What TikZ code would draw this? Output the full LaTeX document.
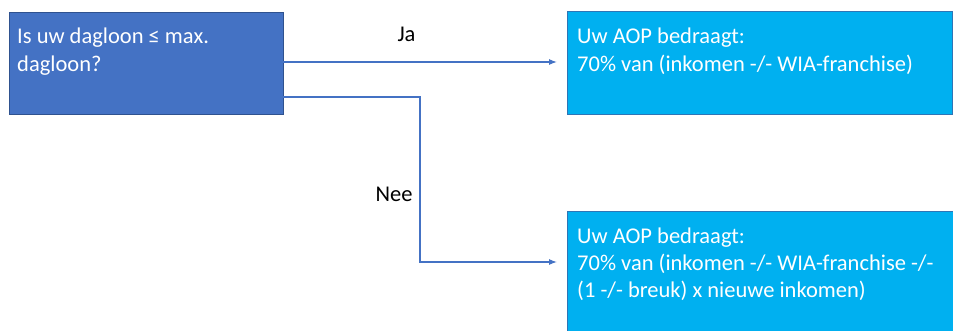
\documentclass[tikz,border=0pt]{standalone}
\usepackage{fontspec}
\setmainfont{Carlito}
\usetikzlibrary{arrows.meta}
\definecolor{qblue}{HTML}{4472C4}
\definecolor{qblueline}{HTML}{2F528F}
\definecolor{cyanfill}{HTML}{00B0F0}
\definecolor{cyanline}{HTML}{2E75B6}
\definecolor{conn}{HTML}{4472C4}
\tikzset{
  box/.style={draw, line width=1pt, rectangle, inner sep=0pt, anchor=north west},
  qbox/.style={box, fill=qblue, draw=qblueline},
  abox/.style={box, fill=cyanfill, draw=cyanline},
  boxtext/.style={anchor=north west, inner sep=0pt, align=left, text=white,
    font=\fontsize{22.5}{28}\selectfont},
  lbl/.style={anchor=base, inner sep=0pt, text=black, font=\fontsize{22.5}{28}\selectfont},
  connector/.style={draw=conn, line width=1.1pt, -{Latex[length=8pt,width=6pt]}, shorten >=10pt},
}
\begin{document}
\begin{tikzpicture}[x=1pt,y=-1pt]
\useasboundingbox (0,0) rectangle (953,331);
\begin{scope}
\clip (0,0) rectangle (953,331);
\node[qbox, minimum width=274pt, minimum height=102pt] (q) at (9,12) {};
\node[abox, minimum width=385pt, minimum height=103pt] (a1) at (567,11) {};
\node[abox, minimum width=393pt, minimum height=130pt] (a2) at (567,211) {};
\end{scope}
\node[boxtext] (qt) at (17,25) {\rule{0pt}{18pt}Is uw dagloon ≤ max.\\dagloon?};
\node[boxtext] (a1t) at (577,25) {\rule{0pt}{18pt}Uw AOP bedraagt:\\70\% van (inkomen -/- WIA-franchise)};
\node[boxtext] (a2t) at (577,225) {\rule{0pt}{18pt}Uw AOP bedraagt:\\[-1pt]70\% van (inkomen -/- WIA-franchise -/-\\[-1pt](1 -/- breuk) x nieuwe inkomen)};
\coordinate (ja0) at (283,62);
\coordinate (nee0) at (283,97);
\coordinate (bend1) at (420,97);
\coordinate (bend2) at (420,262);
\coordinate (ja1) at (567,62);
\coordinate (nee1) at (567,262);
\draw[connector] (ja0) -- (ja1);
\draw[connector] (nee0) -- (bend1) -- (bend2) -- (nee1);
\node[lbl] (ja) at (406.5,42) {Ja};
\node[lbl] (nee) at (394,201.5) {Nee};
\end{tikzpicture}
\end{document}
